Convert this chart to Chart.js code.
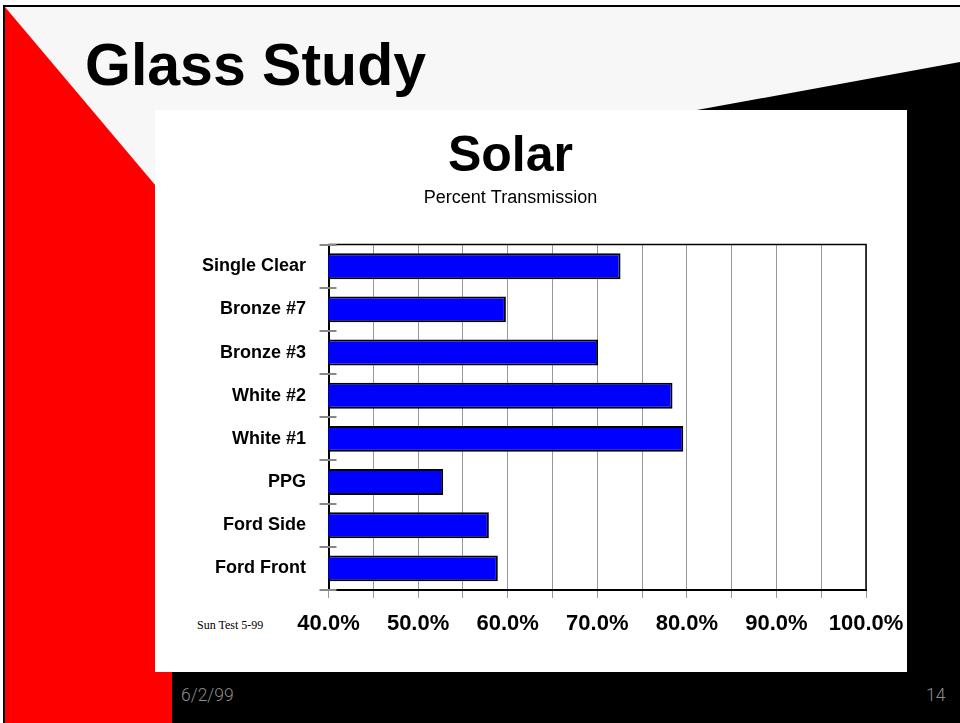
<!DOCTYPE html>
<html>
<head>
<meta charset="utf-8">
<title>Glass Study - Solar</title>
<script src="https://cdn.jsdelivr.net/npm/chart.js@4"></script>
<style>
  html, body { margin: 0; padding: 0; background: #fff; }
  #slide { position: relative; width: 960px; height: 723px; overflow: hidden; }
  #slide svg { position: absolute; left: 0; top: 0; }
  #chart { position: absolute; left: 155px; top: 110px; }
</style>
</head>
<body>
<div id="slide">
  <svg width="960" height="723">
    <rect x="0" y="0" width="960" height="723" fill="#fff"/>
    <rect x="4" y="6" width="956" height="717" fill="#f7f7f7"/>
    <!-- black band, right and bottom -->
    <polygon points="960,62 155,209 155,723 960,723" fill="#000"/>
    <!-- red band, left -->
    <polygon points="5,7 172,205 172,723 5,723" fill="#ff0000"/>
    <line x1="3" y1="6" x2="960" y2="6" stroke="#000" stroke-width="2"/>
    <line x1="4" y1="5" x2="4" y2="723" stroke="#000" stroke-width="2"/>
    <!-- white panel behind the chart -->
    <rect x="155" y="110" width="752" height="562" fill="#fff"/>
    <text x="85" y="85" font-family="Liberation Sans, Arial, sans-serif" font-weight="bold" font-size="59" fill="#000">Glass Study</text>
    <text x="197" y="629" font-family="Liberation Serif, Times New Roman, serif" font-size="12" fill="#000">Sun Test 5-99</text>
    <text x="181" y="701" font-family="Roboto, sans-serif" font-weight="300" font-size="17.5" fill="#8c8c8c">6/2/99</text>
    <text x="926" y="701" font-family="Roboto, sans-serif" font-weight="300" font-size="17.5" fill="#8c8c8c">14</text>
  </svg>
  <canvas id="chart" width="752" height="562"></canvas>
</div>

<script>
// valores (transmision solar en %)
const categories = ["Single Clear", "Bronze #7", "Bronze #3", "White #2", "White #1", "PPG", "Ford Side", "Ford Front"];
const transmission = [72.6, 59.8, 70.1, 78.4, 79.6, 52.8, 57.9, 58.9];
const tickValues = [40, 50, 60, 70, 80, 90, 100];
const tickLabels = ["40.0%", "50.0%", "60.0%", "70.0%", "80.0%", "90.0%", "100.0%"];

const FONT = "'Liberation Sans', Arial, sans-serif";

// borde superior/derecho del area y marcas de categoria que cruzan el eje
const framePlugin = {
  id: "frame",
  afterDatasetsDraw(chart) {
    const ctx = chart.ctx;
    const a = chart.chartArea;
    const yScale = chart.scales.y;
    ctx.save();
    ctx.strokeStyle = "#000";
    ctx.lineWidth = 1.5;
    ctx.beginPath();
    ctx.moveTo(a.left, a.top);
    ctx.lineTo(a.right, a.top);
    ctx.lineTo(a.right, a.bottom);
    ctx.stroke();

    const n = categories.length;
    const band = yScale.height / n;
    ctx.strokeStyle = "#888";
    ctx.lineWidth = 2;
    for (let i = 0; i <= n; i++) {
      const y = Math.round(yScale.top + i * band);
      ctx.beginPath();
      ctx.moveTo(a.left - 9, y);
      ctx.lineTo(a.left + 8, y);
      ctx.stroke();
    }
    ctx.restore();
  }
};

const ctx = document.getElementById("chart").getContext("2d");
const solarChart = new Chart(ctx, {
  type: "bar",
  data: {
    labels: categories,
    datasets: [
      {
        label: "Percent Transmission",
        data: transmission,
        backgroundColor: "#0000ff",
        borderColor: "#000",
        borderWidth: 2,
        barPercentage: 0.6,
        categoryPercentage: 1,
      },
    ],
  },
  options: {
    indexAxis: "y",
    responsive: false,
    animation: false,
    layout: {
      padding: { left: 0, right: 41, top: 0, bottom: 0 },
    },
    scales: {
      x: {
        min: 40,
        max: 100,
        grid: {
          color: "#999",
          lineWidth: 1,
          drawTicks: true,
          tickLength: 8,
        },
        border: { color: "#000", width: 2 },
        ticks: {
          stepSize: 5,
          autoSkip: false,
          maxRotation: 0,
          padding: 13,
          color: "#000",
          font: { family: FONT, size: 22, weight: "bold" },
          callback: function (value) {
            const i = tickValues.indexOf(value);
            return i >= 0 ? tickLabels[i] : "";
          },
        },
        afterFit: function (scale) {
          scale.height = 82;
          scale.paddingLeft = 0;
          scale.paddingRight = 0;
        },
      },
      y: {
        grid: { display: false },
        border: { color: "#000", width: 2 },
        ticks: {
          padding: 14.5,
          color: "#000",
          font: { family: FONT, size: 18, weight: "bold" },
        },
        afterFit: function (scale) {
          scale.width = 173.5;
        },
      },
    },
    plugins: {
      legend: { display: false },
      tooltip: { enabled: false },
      title: {
        display: true,
        text: "Solar",
        color: "#000",
        font: { family: FONT, size: 50, weight: "bold" },
        padding: { top: 17, bottom: 0 },
      },
      subtitle: {
        display: true,
        text: "Percent Transmission",
        color: "#000",
        font: { family: FONT, size: 18, weight: "normal" },
        padding: { top: 0, bottom: 36 },
      },
    },
  },
  plugins: [framePlugin],
});
</script>
</body>
</html>
